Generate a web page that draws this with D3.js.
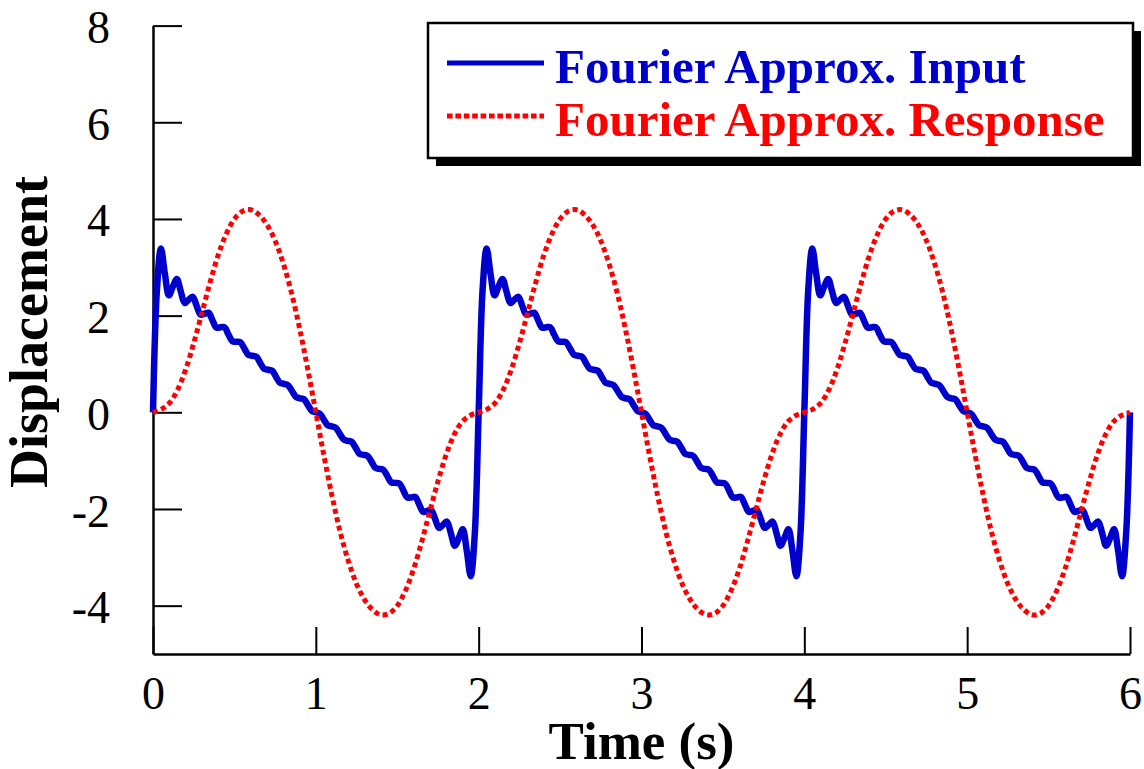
<!DOCTYPE html>
<html>
<head>
<meta charset="utf-8">
<script src="https://cdnjs.cloudflare.com/ajax/libs/d3/7.8.5/d3.min.js"></script>
<style>
    body { margin: 0; background: #fff; }
    .axis text { font-family: "Liberation Serif", "Times New Roman", serif; font-size: 46px; fill: #000; }
    .axis path { stroke: #000; stroke-width: 2.5; }
    .axis line { stroke: #000; stroke-width: 2; }
    .title { font-family: "Liberation Serif", "Times New Roman", serif; font-weight: bold; }
</style>
</head>
<body>
<div id="chart"></div>
<script>
// Data
// Input (blue), sampled every inputDt seconds from t = 0 to t = 6
let inputDt = 0.02439;
let inputValues = [
    0, 2.55, 3.39, 2.86, 2.42, 2.60, 2.76, 2.50, 2.26, 2.33, 2.39, 2.20, 2.02, 2.04, 2.06, 1.90, 1.75, 1.76, 1.76, 1.61,
    1.47, 1.46, 1.45, 1.32, 1.19, 1.17, 1.15, 1.02, 0.90, 0.88, 0.86, 0.73, 0.61, 0.59, 0.56, 0.44, 0.32, 0.29, 0.27, 0.15,
    0.03, 0, -0.03, -0.15, -0.27, -0.29, -0.32, -0.44, -0.56, -0.59, -0.61, -0.73, -0.86, -0.88, -0.90, -1.02, -1.15, -1.17,
    -1.19, -1.32, -1.45, -1.46, -1.47, -1.61, -1.76, -1.76, -1.75, -1.90, -2.06, -2.04, -2.02, -2.20, -2.39, -2.33, -2.26,
    -2.50, -2.76, -2.60, -2.42, -2.86, -3.39, -2.55,
    0, 2.55, 3.39, 2.86, 2.42, 2.60, 2.76, 2.50, 2.26, 2.33, 2.39, 2.20, 2.02, 2.04, 2.06, 1.90, 1.75, 1.76, 1.76, 1.61,
    1.47, 1.46, 1.45, 1.32, 1.19, 1.17, 1.15, 1.02, 0.90, 0.88, 0.86, 0.73, 0.61, 0.59, 0.56, 0.44, 0.32, 0.29, 0.27, 0.15,
    0.03, 0, -0.03, -0.15, -0.27, -0.29, -0.32, -0.44, -0.56, -0.59, -0.61, -0.73, -0.86, -0.88, -0.90, -1.02, -1.15, -1.17,
    -1.19, -1.32, -1.45, -1.46, -1.47, -1.61, -1.76, -1.76, -1.75, -1.90, -2.06, -2.04, -2.02, -2.20, -2.39, -2.33, -2.26,
    -2.50, -2.76, -2.60, -2.42, -2.86, -3.39, -2.55,
    0, 2.55, 3.39, 2.86, 2.42, 2.60, 2.76, 2.50, 2.26, 2.33, 2.39, 2.20, 2.02, 2.04, 2.06, 1.90, 1.75, 1.76, 1.76, 1.61,
    1.47, 1.46, 1.45, 1.32, 1.19, 1.17, 1.15, 1.02, 0.90, 0.88, 0.86, 0.73, 0.61, 0.59, 0.56, 0.44, 0.32, 0.29, 0.27, 0.15,
    0.03, 0, -0.03, -0.15, -0.27, -0.29, -0.32, -0.44, -0.56, -0.59, -0.61, -0.73, -0.86, -0.88, -0.90, -1.02, -1.15, -1.17,
    -1.19, -1.32, -1.45, -1.46, -1.47, -1.61, -1.76, -1.76, -1.75, -1.90, -2.06, -2.04, -2.02, -2.20, -2.39, -2.33, -2.26,
    -2.50, -2.76, -2.60, -2.42, -2.86, -3.39, -2.55,
    0
];

// Response (red), sampled every 0.05 s
let responseDt = 0.05;
let responseValues = [
    0, 0.06, 0.19, 0.46, 0.88, 1.43, 2.05, 2.68, 3.25, 3.69, 4.00, 4.16, 4.19, 4.09, 3.88, 3.55, 3.08, 2.48, 1.74, 0.90,
    0, -0.90, -1.74, -2.48, -3.08, -3.55, -3.88, -4.09, -4.19, -4.16, -4.00, -3.69, -3.25, -2.68, -2.05, -1.43, -0.88, -0.46, -0.19, -0.06,
    0, 0.06, 0.19, 0.46, 0.88, 1.43, 2.05, 2.68, 3.25, 3.69, 4.00, 4.16, 4.19, 4.09, 3.88, 3.55, 3.08, 2.48, 1.74, 0.90,
    0, -0.90, -1.74, -2.48, -3.08, -3.55, -3.88, -4.09, -4.19, -4.16, -4.00, -3.69, -3.25, -2.68, -2.05, -1.43, -0.88, -0.46, -0.19, -0.06,
    0, 0.06, 0.19, 0.46, 0.88, 1.43, 2.05, 2.68, 3.25, 3.69, 4.00, 4.16, 4.19, 4.09, 3.88, 3.55, 3.08, 2.48, 1.74, 0.90,
    0, -0.90, -1.74, -2.48, -3.08, -3.55, -3.88, -4.09, -4.19, -4.16, -4.00, -3.69, -3.25, -2.68, -2.05, -1.43, -0.88, -0.46, -0.19, -0.06,
    0
];

let xTicks = [0, 1, 2, 3, 4, 5, 6];
let yTicks = [-4, -2, 0, 2, 4, 6, 8];
let seriesNames = ["Fourier Approx. Input", "Fourier Approx. Response"];
let seriesColors = ["#0000cc", "#ff0000"];

let svgWidth = 1144;
let svgHeight = 769;

let margin = {
    top: 25.6,
    right: 14,
    bottom: 115,
    left: 153
};

let width = svgWidth - margin.left - margin.right;
let height = svgHeight - margin.top - margin.bottom;

let svg = d3.select("#chart")
    .append("svg")
    .attr("width", svgWidth)
    .attr("height", svgHeight);

let chartGroup = svg.append("g")
    .attr("transform", `translate(${margin.left}, ${margin.top})`);

// scales
let xScale = d3.scaleLinear()
    .domain([0, 6])
    .range([0, width]);

let yScale = d3.scaleLinear()
    .domain([-5, 8])
    .range([height, 0]);

// axes, ticks pointing into the plot; plain hyphen for negatives like the original
let bottomAxis = d3.axisBottom(xScale)
    .tickValues(xTicks)
    .tickFormat(d => String(d))
    .tickSizeInner(-27)
    .tickSizeOuter(0)
    .tickPadding(22);

let leftAxis = d3.axisLeft(yScale)
    .tickValues(yTicks)
    .tickFormat(d => String(d))
    .tickSizeInner(-29)
    .tickSizeOuter(0)
    .tickPadding(43);

chartGroup.append("g")
    .classed("axis", true)
    .attr("transform", `translate(0, ${height})`)
    .call(bottomAxis);

chartGroup.append("g")
    .classed("axis", true)
    .call(leftAxis)
    .selectAll("text")
    .attr("dy", "0.37em");

// lines
let inputData = inputValues.map((v, i) => ({ t: i * inputDt, v: v }));
let responseData = responseValues.map((v, i) => ({ t: i * responseDt, v: v }));

let line = d3.line()
    .x(d => xScale(d.t))
    .y(d => yScale(d.v))
    .curve(d3.curveCatmullRom.alpha(0.5));

chartGroup.append("path")
    .datum(inputData)
    .attr("fill", "none")
    .attr("stroke", seriesColors[0])
    .attr("stroke-width", 6.5)
    .attr("stroke-linejoin", "round")
    .attr("d", line);

chartGroup.append("path")
    .datum(responseData)
    .attr("fill", "none")
    .attr("stroke", seriesColors[1])
    .attr("stroke-width", 5)
    .attr("stroke-dasharray", "5,3.6")
    .attr("d", line);

// axis titles
svg.append("text")
    .classed("title", true)
    .attr("x", margin.left + width / 2)
    .attr("y", 759)
    .attr("text-anchor", "middle")
    .attr("font-size", "53px")
    .text("Time (s)");

svg.append("text")
    .classed("title", true)
    .attr("transform", "translate(47, 332) rotate(-90)")
    .attr("text-anchor", "middle")
    .attr("font-size", "54px")
    .text("Displacement");

// legend box with drop shadow
let legend = svg.append("g")
    .attr("transform", "translate(428, 23)");

legend.append("rect")
    .attr("x", 8)
    .attr("y", 8)
    .attr("width", 705)
    .attr("height", 135)
    .attr("fill", "#000");

legend.append("rect")
    .attr("width", 705)
    .attr("height", 135)
    .attr("fill", "#fff")
    .attr("stroke", "#000")
    .attr("stroke-width", 2.5);

seriesNames.forEach(function (name, i) {
    let y = 40 + i * 53;
    legend.append("line")
        .attr("x1", 19)
        .attr("x2", 116)
        .attr("y1", y)
        .attr("y2", y)
        .attr("stroke", seriesColors[i])
        .attr("stroke-width", 5)
        .attr("stroke-dasharray", i === 0 ? null : "5.6,2.8");

    legend.append("text")
        .classed("title", true)
        .attr("x", 127)
        .attr("y", y + 20)
        .attr("font-size", "49px")
        .attr("fill", seriesColors[i])
        .text(name);
});
</script>
</body>
</html>
